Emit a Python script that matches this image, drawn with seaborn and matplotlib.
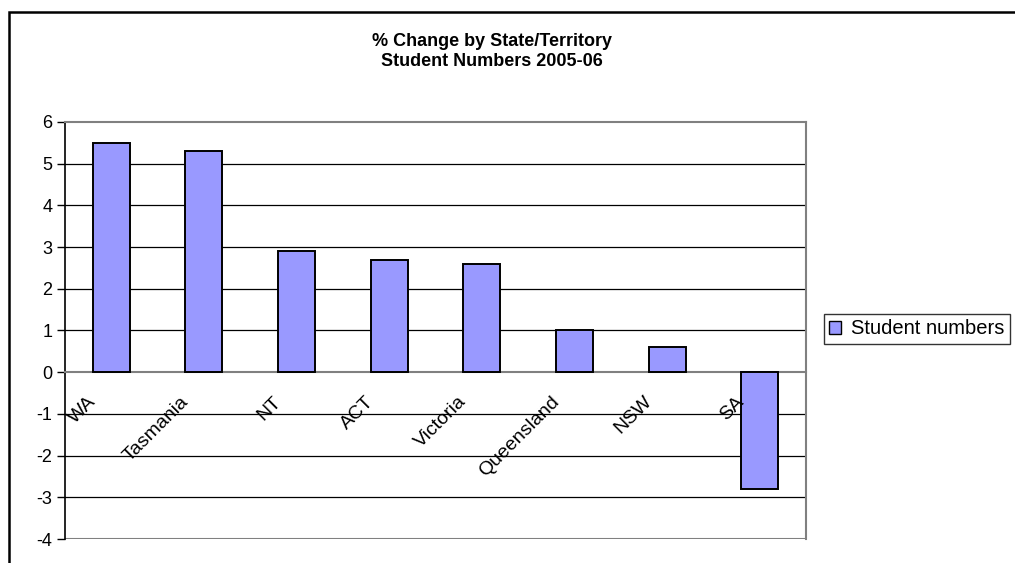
import numpy as np
import pandas as pd
import matplotlib
matplotlib.use('Agg')
import matplotlib.pyplot as plt
import matplotlib.transforms as mtransforms
import seaborn as sns
from matplotlib.patches import Patch, Rectangle

# --- data ---
states = ['WA', 'Tasmania', 'NT', 'ACT', 'Victoria', 'Queensland', 'NSW', 'SA']
pct_change = [5.5, 5.3, 2.9, 2.7, 2.6, 1.0, 0.6, -2.8]
series_name = 'Student numbers'
title_lines = ['% Change by State/Territory', 'Student Numbers 2005-06']

sns.set_style('white')
plt.rcParams['font.family'] = ['Liberation Sans', 'DejaVu Sans']
plt.rcParams['axes.unicode_minus'] = False
plt.rcParams['text.color'] = 'black'
plt.rcParams['xtick.color'] = 'black'
plt.rcParams['ytick.color'] = 'black'

df = pd.DataFrame({'state': states, 'change': pct_change})

fig = plt.figure(figsize=(10.15, 5.63), dpi=100)
ax = fig.add_axes([65 / 1015, 1 - 539 / 563, (806 - 65) / 1015, (539 - 122) / 563])

bar_color = '#9999FF'
sns.barplot(data=df, x='state', y='change', color=bar_color, edgecolor='black',
            linewidth=1.4, width=0.4, saturation=1, ax=ax, zorder=3)

ax.set_ylim(-4, 6)
ax.set_xlim(-0.5, len(states) - 0.5)
ax.set_yticks(np.arange(-4, 7, 1))
ax.tick_params(axis='y', labelsize=13, length=6, width=1, color='black', pad=3,
               direction='out', left=True, labelcolor='black')
for y in range(-3, 6):
    if y != 0:
        ax.axhline(y, color='black', lw=0.9, zorder=1)

# spines
for s in ['top', 'right']:
    ax.spines[s].set_color('#808080')
    ax.spines[s].set_linewidth(1.5)
ax.spines['left'].set_color('black')
ax.spines['left'].set_linewidth(1.2)
ax.spines['bottom'].set_position(('data', 0))
ax.spines['bottom'].set_color('#808080')
ax.spines['bottom'].set_linewidth(1.5)
ax.axhline(-4, color='#808080', lw=1.5, zorder=1)

# category boundary ticks on the zero line, labels rotated
ax.set_xticks(np.arange(-0.5, len(states), 1), minor=True)
ax.tick_params(axis='x', which='minor', length=6, width=1, color='#808080', direction='out')
ax.set_xticks(np.arange(len(states)))
ax.set_xticklabels(states, rotation=45, ha='right', va='top', rotation_mode='anchor',
                   fontsize=14, color='black')
ax.tick_params(axis='x', which='major', length=0, pad=15)
offset = mtransforms.ScaledTranslation(-0.24, 0, fig.dpi_scale_trans)
for lbl in ax.get_xticklabels():
    lbl.set_transform(lbl.get_transform() + offset)
ax.xaxis.set_zorder(4)

ax.set_xlabel('')
ax.set_ylabel('')

# title
fig.text(492 / 1015, 1 - 42 / 563, title_lines[0], ha='center', va='center',
         fontsize=13, fontweight='bold')
fig.text(492 / 1015, 1 - 61 / 563, title_lines[1], ha='center', va='center',
         fontsize=13, fontweight='bold')

# legend
handle = Patch(facecolor=bar_color, edgecolor='black', linewidth=1)
fig.legend([handle], [series_name], loc='center left',
           bbox_to_anchor=(824 / 1015, 1 - 329 / 563), frameon=True, fancybox=False,
           edgecolor='black', fontsize=14.5, handlelength=0.6, handleheight=0.6,
           handletextpad=0.5, borderpad=0.25, borderaxespad=0)

# outer chart frame
frame = Rectangle((9 / 1015, -0.1), 1.2, 1 - 12 / 563 + 0.1, transform=fig.transFigure,
                  fill=False, edgecolor='black', linewidth=1.8)
fig.patches.append(frame)

fig.savefig('out.png', dpi=100)
